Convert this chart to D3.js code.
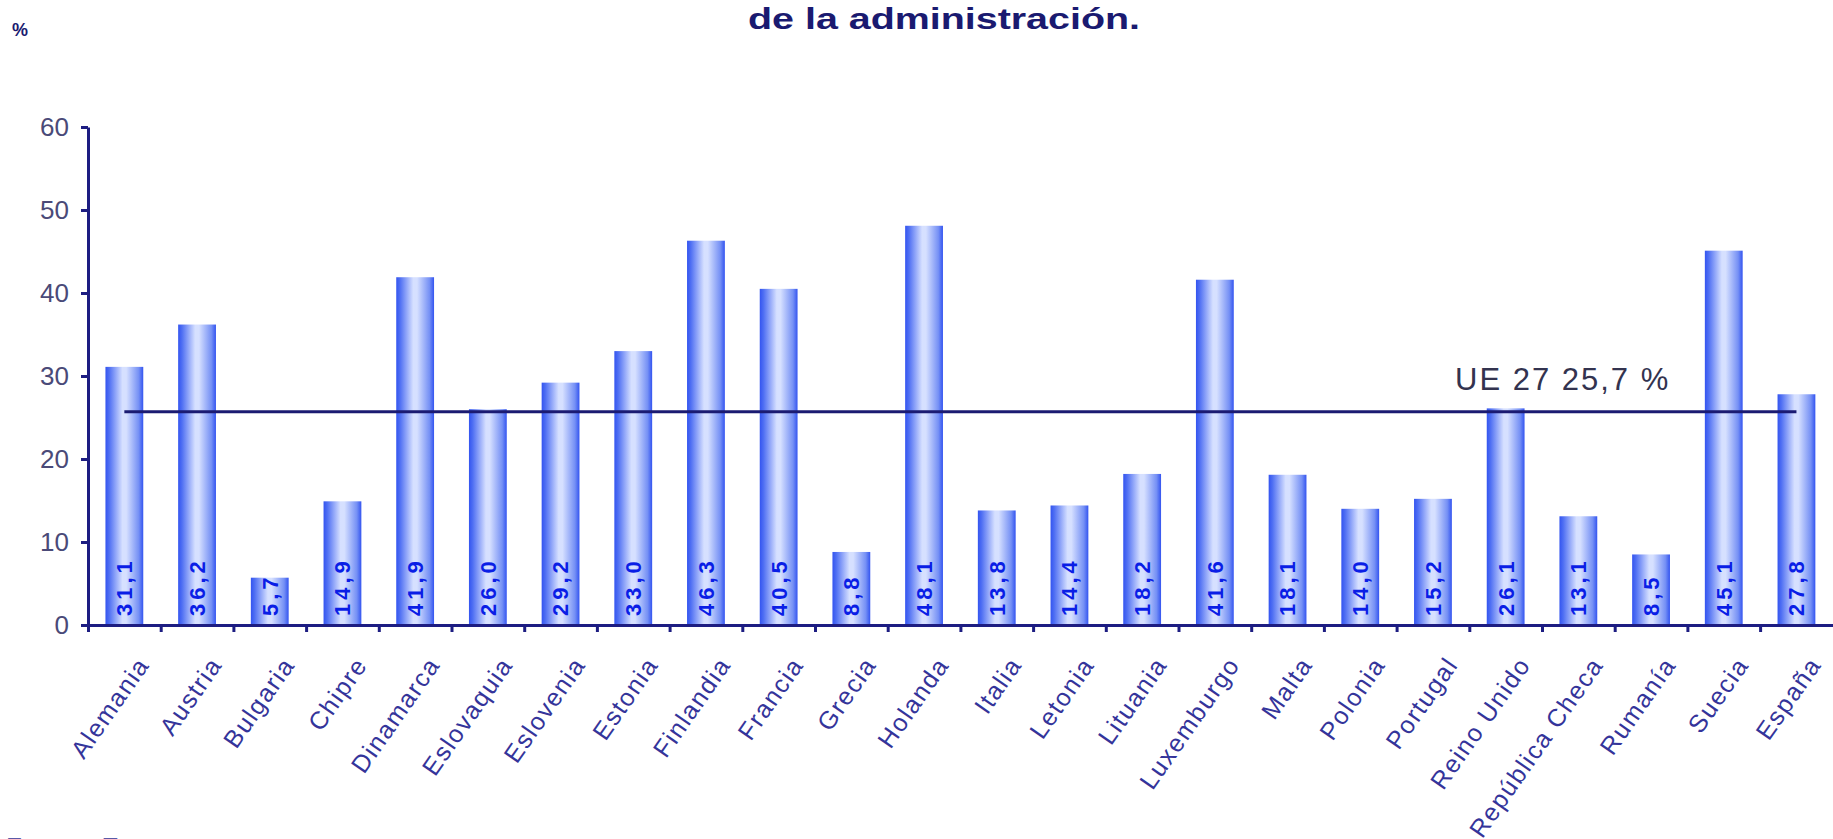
<!DOCTYPE html>
<html>
<head>
<meta charset="utf-8">
<script src="https://cdn.jsdelivr.net/npm/d3@7"></script>
<style>
  body { margin: 0; background: #fff; }
  text { font-family: "Liberation Sans", Arial, sans-serif; }
</style>
</head>
<body>
<div id="chart"></div>
<script>
var paises = ["Alemania", "Austria", "Bulgaria", "Chipre", "Dinamarca", "Eslovaquia", "Eslovenia", "Estonia",
  "Finlandia", "Francia", "Grecia", "Holanda", "Italia", "Letonia", "Lituania", "Luxemburgo", "Malta",
  "Polonia", "Portugal", "Reino Unido", "República Checa", "Rumanía", "Suecia", "España"];
var valores = [31.1, 36.2, 5.7, 14.9, 41.9, 26.0, 29.2, 33.0, 46.3, 40.5, 8.8, 48.1, 13.8, 14.4, 18.2,
  41.6, 18.1, 14.0, 15.2, 26.1, 13.1, 8.5, 45.1, 27.8];
var mediaUE = 25.7;
var etiquetaUE = "UE 27 25,7 %";
var yTicks = [0, 10, 20, 30, 40, 50, 60];
var titulo = "de la administración.";
var fuente = "Fuente: Eurostat";

var width = 1833;
var height = 839;
var mLeft = 88, mRight = 1832.8, mTop = 127, mBottom = 625;

var svg = d3.select("#chart").append("svg")
  .attr("width", width)
  .attr("height", height);

var grad = svg.append("defs").append("linearGradient")
  .attr("id", "barra")
  .attr("x1", "0").attr("x2", "1").attr("y1", "0").attr("y2", "0");
[[0, "#3354f0"], [0.1, "#4f6ff3"], [0.45, "#d6e0ff"], [0.55, "#d6e0ff"], [0.88, "#7590f5"], [1, "#3354f0"]]
  .forEach(function(s) {
    grad.append("stop").attr("offset", s[0]).attr("stop-color", s[1]);
  });

var x = d3.scaleBand().domain(paises).range([mLeft, mRight]).paddingInner(0.48).paddingOuter(0.24);
var y = d3.scaleLinear().domain([0, 60]).range([mBottom, mTop]);
var xb = d3.scaleLinear().domain([0, paises.length]).range([mLeft, mRight]);

var coma = function(v) { return d3.format(".1f")(v).replace(".", ","); };
var centro = function(p) { return x(p) + x.bandwidth() / 2; };

// barras
svg.selectAll(".bar")
  .data(valores)
  .enter().append("rect")
  .attr("class", "bar")
  .attr("x", function(d, i) { return x(paises[i]); })
  .attr("width", x.bandwidth())
  .attr("y", function(d) { return y(d); })
  .attr("height", function(d) { return y(0) - y(d); })
  .attr("fill", "url(#barra)");

// etiquetas de valor dentro de las barras
svg.selectAll(".val")
  .data(valores)
  .enter().append("text")
  .attr("class", "val")
  .attr("transform", function(d, i) {
    return "translate(" + centro(paises[i]) + "," + (mBottom - 9) + ") rotate(-90)";
  })
  .attr("dy", "0.36em")
  .attr("fill", "#0a1ee6")
  .style("font-weight", "bold")
  .style("font-size", "22px")
  .style("letter-spacing", "4px")
  .text(coma);

// linea media UE
svg.append("line")
  .attr("x1", centro(paises[0]))
  .attr("x2", centro(paises[paises.length - 1]))
  .attr("y1", y(mediaUE))
  .attr("y2", y(mediaUE))
  .attr("stroke", "#1b1b72")
  .attr("stroke-width", 3);

svg.append("text")
  .attr("x", 1455)
  .attr("y", y(mediaUE) - 22)
  .attr("fill", "#33334f")
  .style("font-size", "31px")
  .style("letter-spacing", "2px")
  .text(etiquetaUE);

// ejes
var yAxis = svg.append("g")
  .attr("class", "y_axis")
  .attr("transform", "translate(" + mLeft + ",0)")
  .call(d3.axisLeft(y).tickValues(yTicks).tickSize(7).tickSizeOuter(0).tickPadding(12));

var xAxis = svg.append("g")
  .attr("class", "x_axis")
  .attr("transform", "translate(0," + mBottom + ")")
  .call(d3.axisBottom(xb).tickValues(d3.range(0, paises.length)).tickFormat("").tickSize(7).tickSizeOuter(0));

svg.selectAll(".y_axis path, .y_axis line, .x_axis path, .x_axis line")
  .attr("stroke", "#1d1d82")
  .attr("stroke-width", 3);

yAxis.selectAll("text")
  .attr("fill", "#4a4a78")
  .style("font-size", "26px")
  .style("font-family", "'Liberation Sans', Arial, sans-serif");

// nombres de paises
svg.selectAll(".pais")
  .data(paises)
  .enter().append("text")
  .attr("class", "pais")
  .attr("text-anchor", "end")
  .attr("transform", function(d) {
    return "translate(" + (centro(d) + 26) + "," + (mBottom + 40) + ") rotate(-55)";
  })
  .attr("fill", "#34349a")
  .style("font-size", "25px")
  .style("letter-spacing", "1.5px")
  .text(function(d) { return d; });

// titulo, unidad y fuente
svg.append("text")
  .attr("x", 944)
  .attr("y", 29)
  .attr("text-anchor", "middle")
  .attr("textLength", 392)
  .attr("lengthAdjust", "spacingAndGlyphs")
  .attr("fill", "#1a1a70")
  .style("font-weight", "bold")
  .style("font-size", "30px")
  .text(titulo);

svg.append("text")
  .attr("x", 12)
  .attr("y", 36)
  .attr("fill", "#1a1a70")
  .style("font-weight", "bold")
  .style("font-size", "18px")
  .text("%");

svg.append("text")
  .attr("x", 6)
  .attr("y", 856)
  .attr("fill", "#5a5aa8")
  .style("font-size", "26px")
  .text(fuente);
</script>
</body>
</html>
